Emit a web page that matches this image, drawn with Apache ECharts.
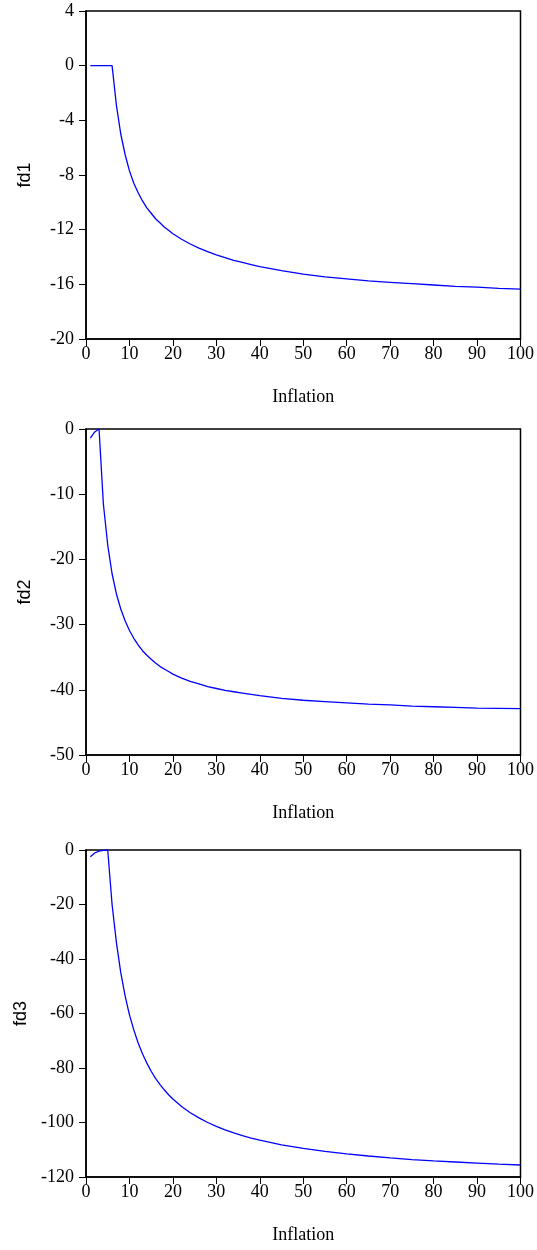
<!DOCTYPE html>
<html>
<head>
<meta charset="utf-8">
<script src="https://cdn.jsdelivr.net/npm/echarts@6/dist/echarts.min.js"></script>
<style>
  html, body { margin: 0; padding: 0; background: #fff; }
  #chart { width: 537px; height: 1250px; }
</style>
</head>
<body>
<div id="chart"></div>
<script>
// sampled inflation values (x)
const inflation = [1, 2, 3, 4, 5, 6, 7, 8, 9, 10, 11, 12, 13, 14, 15, 16, 17, 18, 19, 20,
  22, 24, 26, 28, 30, 32, 34, 36, 38, 40, 45, 50, 55, 60, 65, 70, 75, 80, 85, 90, 95, 100];

const fd1 = [0, 0, 0, 0, 0, 0, -2.9, -5.0, -6.5, -7.7, -8.6, -9.3, -9.9, -10.4, -10.8, -11.2, -11.5, -11.8, -12.05, -12.3,
  -12.7, -13.05, -13.35, -13.6, -13.85, -14.05, -14.25, -14.4, -14.55, -14.7, -15.0, -15.25, -15.45, -15.6, -15.75, -15.85, -15.95, -16.05, -16.15, -16.2, -16.3, -16.35];

const fd2 = [-1.4, -0.45, 0, -11.5, -17.8, -22.2, -25.3, -27.6, -29.4, -30.9, -32.1, -33.1, -34.0, -34.7, -35.3, -35.9, -36.4, -36.8, -37.2, -37.6,
  -38.2, -38.7, -39.1, -39.5, -39.8, -40.1, -40.3, -40.5, -40.7, -40.9, -41.3, -41.6, -41.8, -42.0, -42.2, -42.3, -42.5, -42.6, -42.7, -42.8, -42.85, -42.9];

const fd3 = [-2.5, -1.1, -0.4, -0.1, 0, -20, -34, -45, -53.5, -60.5, -66, -70.8, -74.8, -78.2, -81.2, -83.8, -86.0, -88.0, -89.8, -91.4,
  -94.1, -96.4, -98.3, -100.0, -101.4, -102.7, -103.8, -104.8, -105.7, -106.5, -108.2, -109.5, -110.6, -111.5, -112.3, -113.0, -113.6, -114.1, -114.5, -114.9, -115.3, -115.6];

const panels = [
  { name: 'fd1', values: fd1, min: -20, max: 4, interval: 4, top: 11, height: 328 },
  { name: 'fd2', values: fd2, min: -50, max: 0, interval: 10, top: 429, height: 326 },
  { name: 'fd3', values: fd3, min: -120, max: 0, interval: 20, top: 850, height: 327 },
];

const SERIF = '"Liberation Serif", "Times New Roman", serif';
const SANS = '"Liberation Sans", Arial, sans-serif';
const AXIS_LINE = { show: true, onZero: false, lineStyle: { color: '#000', width: 1.5 } };
const TICK = { show: true, length: 7, lineStyle: { color: '#000', width: 1 } };

const chart = echarts.init(document.getElementById('chart'), null, { renderer: 'canvas' });

chart.setOption({
  backgroundColor: '#fff',
  animation: false,
  grid: panels.map((p) => ({
    left: 86, width: 436, top: p.top, height: p.height,
    show: true, borderColor: '#000', borderWidth: 1.5, backgroundColor: 'transparent',
  })),
  xAxis: panels.map((p, i) => ({
    type: 'value', gridIndex: i, min: 0, max: 100, interval: 10,
    name: 'Inflation', nameLocation: 'middle', nameGap: 49,
    nameTextStyle: { fontFamily: SERIF, fontSize: 18, color: '#000' },
    axisLine: AXIS_LINE,
    axisTick: TICK,
    axisLabel: { fontFamily: SERIF, fontSize: 18, color: '#000', margin: 6 },
    splitLine: { show: false },
  })),
  yAxis: panels.map((p, i) => ({
    type: 'value', gridIndex: i, min: p.min, max: p.max, interval: p.interval,
    name: p.name, nameLocation: 'middle', nameGap: 52, nameRotate: 90,
    nameTextStyle: { fontFamily: SANS, fontSize: 18, color: '#000' },
    axisLine: AXIS_LINE,
    axisTick: TICK,
    axisLabel: { fontFamily: SERIF, fontSize: 18, color: '#000', margin: 12 },
    splitLine: { show: false },
  })),
  series: panels.map((p, i) => ({
    type: 'line', xAxisIndex: i, yAxisIndex: i,
    data: inflation.map((x, k) => [x, p.values[k]]),
    symbol: 'none', smooth: false,
    lineStyle: { color: '#0000ff', width: 1.3 },
  })),
});
</script>
</body>
</html>
